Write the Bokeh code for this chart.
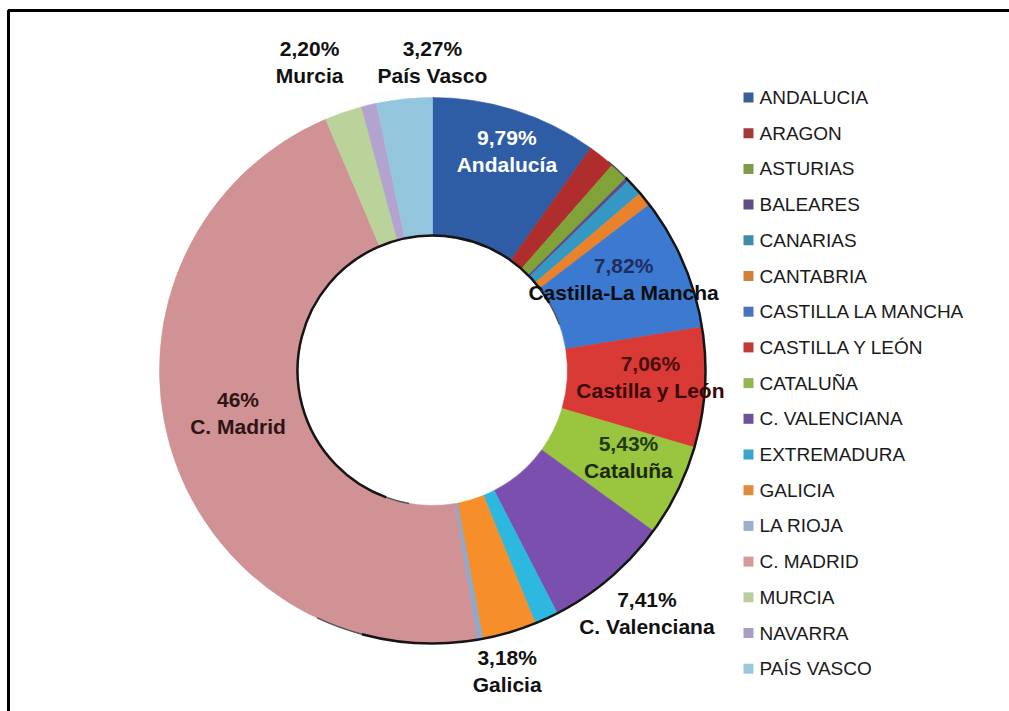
import numpy as np
from bokeh.plotting import figure
from bokeh.models import Range1d, ColumnDataSource
from bokeh.core.properties import value
from bokeh.embed import file_html
from bokeh.resources import INLINE

# ---------------- data ----------------
regions = ["ANDALUCIA", "ARAGON", "ASTURIAS", "BALEARES", "CANARIAS", "CANTABRIA",
           "CASTILLA LA MANCHA", "CASTILLA Y LEÓN", "CATALUÑA", "C. VALENCIANA",
           "EXTREMADURA", "GALICIA", "LA RIOJA", "C. MADRID", "MURCIA", "NAVARRA",
           "PAÍS VASCO"]
shares = [9.79, 1.6, 1.1, 0.2, 1.0, 0.85, 7.82, 7.06, 5.43, 7.41,
          1.4, 3.18, 0.35, 46.0, 2.20, 0.9, 3.27]
label_pcts = ["9,79%", "", "", "", "", "", "7,82%", "7,06%", "5,43%", "7,41%",
              "", "3,18%", "", "46%", "2,20%", "", "3,27%"]
label_names = ["Andalucía", "", "", "", "", "", "Castilla-La Mancha", "Castilla y León",
               "Cataluña", "C. Valenciana", "", "Galicia", "", "C. Madrid", "Murcia", "",
               "País Vasco"]

# ---------------- styles ----------------
colors = ["#2E5DA5", "#B02D2D", "#7FA339", "#5E4A8C", "#3598C4", "#E9822B",
          "#3C79D0", "#D93A36", "#9AC53F", "#7A4FAE", "#2DB8E0", "#F68E2A",
          "#8FA8CC", "#D09294", "#B9D39A", "#B2A4CF", "#93C6DC"]
legend_colors = ["#3A5F96", "#A23A3A", "#7E9A4A", "#5F4D86", "#3F8CA8", "#D0803A",
                 "#4874BE", "#C23A38", "#93B552", "#6E5296", "#3AA5C8", "#E08C3C",
                 "#9AAFCB", "#D49A9C", "#BCCDA2", "#A79EC0", "#9CC8DA"]
pct_colors = ["#FFFFFF", None, None, None, None, None, "#1F2D5E", "#4A0E0E", "#213A0E",
              "#111111", None, "#111111", None, "#2E1414", "#111111", None, "#111111"]
name_colors = ["#FFFFFF", None, None, None, None, None, "#0D0D0D", "#3A0808", "#1A2A08",
               "#111111", None, "#111111", None, "#2E1414", "#111111", None, "#111111"]
label_r = [232, 0, 0, 0, 0, 0, 212, 218, 214, 323, 0, 309, 0, 199, 333, 0, 309]
label_dth = [1.0, 0, 0, 0, 0, 0, -2.4, -2.0, -2.5, -1.0, 0, 2.4, 0, 4.0, -2.6, 0, 5.9]

W, H = 1009, 711
CX, CY_SCR = 432, 370
R_OUT, R_IN = 273, 135


def Y(py):
    return H - py


p = figure(width=W, height=H, x_range=Range1d(0, W), y_range=Range1d(0, H),
           output_backend="svg", toolbar_location=None, min_border=0,
           x_axis_type=None, y_axis_type=None, outline_line_color=None,
           background_fill_color="white", border_fill_color="white")
p.grid.visible = False

# frame
p.line(x=[8, 8, W + 10], y=[Y(H + 10), Y(10), Y(10)], line_color="black", line_width=3)

# wedges
vals = np.array(shares, dtype=float)
total = vals.sum()
cum = np.cumsum(vals)
th1 = 360.0 * (cum - vals) / total
th2 = 360.0 * cum / total
src = ColumnDataSource(dict(
    start=np.radians(90.0 - th2), end=np.radians(90.0 - th1), color=colors))
p.annular_wedge(x=CX, y=Y(CY_SCR), inner_radius=R_IN, outer_radius=R_OUT,
                start_angle="start", end_angle="end", direction="anticlock",
                fill_color="color", line_color="color", line_width=0.6, source=src)

# bevel edges (shadow on lower-right outer rim and upper-left inner rim)
for a0, a1, lw, col in [(45, 195, 2.5, "#151515"), (40, 45, 1.5, "#555555"),
                        (195, 205, 1.5, "#555555")]:
    p.arc(x=CX, y=Y(CY_SCR), radius=R_OUT, start_angle=np.radians(90 - a1),
          end_angle=np.radians(90 - a0), direction="anticlock", line_color=col,
          line_width=lw)
for a0, a1, lw, col in [(200, 420, 2.5, "#151515"), (190, 200, 1.5, "#555555"),
                        (420, 430, 1.5, "#555555")]:
    p.arc(x=CX, y=Y(CY_SCR), radius=R_IN, start_angle=np.radians(90 - a1),
          end_angle=np.radians(90 - a0), direction="anticlock", line_color=col,
          line_width=lw)

# data labels
lx, ly, pct_t, name_t, pc, nc = [], [], [], [], [], []
for i in range(len(regions)):
    if not label_pcts[i]:
        continue
    mid = 0.5 * (th1[i] + th2[i]) + label_dth[i]
    x = CX + label_r[i] * np.sin(np.radians(mid))
    ysc = CY_SCR - label_r[i] * np.cos(np.radians(mid))
    lx.append(x)
    ly.append(ysc)
    pct_t.append(label_pcts[i])
    name_t.append(label_names[i])
    pc.append(pct_colors[i])
    nc.append(name_colors[i])
lx = np.array(lx)
ly = np.array(ly)
p.text(x=lx, y=[Y(v - 13) for v in ly], text=pct_t, text_color=pc,
       text_font=value("Liberation Sans"), text_font_style="bold",
       text_font_size="21px", text_align="center", text_baseline="middle")
p.text(x=lx, y=[Y(v + 14) for v in ly], text=name_t, text_color=nc,
       text_font=value("Liberation Sans"), text_font_style="bold",
       text_font_size="21px", text_align="center", text_baseline="middle")

# legend
leg_y = [Y(97 + 35.7 * i) for i in range(len(regions))]
p.scatter(x=[748] * len(regions), y=leg_y, marker="square", size=10,
          fill_color=legend_colors, line_color=None)
p.text(x=[759] * len(regions), y=leg_y, text=regions, text_color="#1A1A1A",
       text_font=value("Liberation Sans"), text_font_size="19px",
       text_align="left", text_baseline="middle")

open("out.html", "w").write(file_html(p, INLINE))
